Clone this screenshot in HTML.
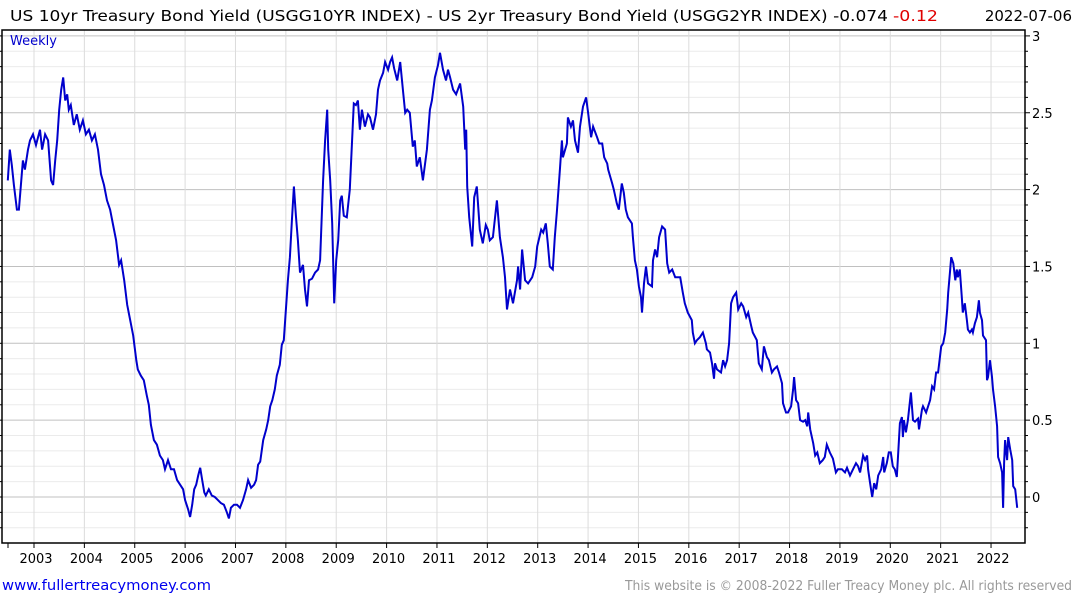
<!DOCTYPE html>
<html><head><meta charset="utf-8"><style>
body{margin:0;background:#fff;}
svg{display:block;font-family:"DejaVu Sans","Liberation Sans",sans-serif;}
</style></head><body>
<svg id="chart" width="1075" height="600" viewBox="0 0 1075 600">
<g id="grid"></g>
<g id="axes"></g>
<g id="series"></g>
<text x="10" y="21" font-size="15" fill="#000" textLength="878" lengthAdjust="spacingAndGlyphs">US 10yr Treasury Bond Yield (USGG10YR INDEX) - US 2yr Treasury Bond Yield (USGG2YR INDEX) -0.074</text>
<text x="893" y="21" font-size="15" fill="#e00000" textLength="45" lengthAdjust="spacingAndGlyphs">-0.12</text>
<text x="1072" y="21" font-size="15" fill="#000" text-anchor="end">2022-07-06</text>
<text x="10" y="45" font-size="13" fill="#0000cc">Weekly</text>
<text x="2" y="590" font-size="14" fill="#0000ee" textLength="209" lengthAdjust="spacingAndGlyphs">www.fullertreacymoney.com</text>
<text x="1072" y="590" font-size="13" fill="#999" text-anchor="end" textLength="447" lengthAdjust="spacingAndGlyphs">This website is © 2008-2022 Fuller Treacy Money plc. All rights reserved</text>
</svg>
<script>
const yearTicks=[2003,2004,2005,2006,2007,2008,2009,2010,2011,2012,2013,2014,2015,2016,2017,2018,2019,2020,2021,2022];
const yTicks=[0,0.5,1,1.5,2,2.5,3];
const yTickLabels=["0","0.5","1","1.5","2","2.5","3"];
const dates=[2002.48,2002.52,2002.56,2002.60,2002.66,2002.70,2002.74,2002.78,2002.82,2002.88,2002.92,2002.98,2003.04,2003.12,2003.16,2003.22,2003.28,2003.34,2003.38,2003.42,2003.46,2003.50,2003.54,2003.58,2003.62,2003.66,2003.69,2003.73,2003.79,2003.85,2003.91,2003.97,2004.03,2004.09,2004.15,2004.21,2004.27,2004.33,2004.39,2004.45,2004.51,2004.57,2004.63,2004.69,2004.73,2004.79,2004.85,2004.91,2004.97,2005.03,2005.06,2005.12,2005.18,2005.24,2005.28,2005.32,2005.38,2005.44,2005.50,2005.56,2005.60,2005.66,2005.72,2005.78,2005.84,2005.90,2005.96,2006.00,2006.06,2006.10,2006.14,2006.18,2006.22,2006.26,2006.30,2006.34,2006.38,2006.41,2006.47,2006.53,2006.59,2006.65,2006.71,2006.77,2006.83,2006.87,2006.91,2006.97,2007.03,2007.09,2007.15,2007.21,2007.25,2007.31,2007.37,2007.41,2007.45,2007.49,2007.55,2007.61,2007.65,2007.69,2007.73,2007.78,2007.82,2007.88,2007.92,2007.96,2008.00,2008.04,2008.08,2008.12,2008.16,2008.20,2008.24,2008.28,2008.34,2008.38,2008.42,2008.46,2008.52,2008.58,2008.64,2008.68,2008.74,2008.78,2008.82,2008.84,2008.88,2008.92,2008.96,2009.00,2009.04,2009.08,2009.11,2009.15,2009.21,2009.27,2009.31,2009.35,2009.39,2009.43,2009.47,2009.51,2009.57,2009.63,2009.67,2009.73,2009.79,2009.83,2009.87,2009.93,2009.97,2010.03,2010.07,2010.11,2010.15,2010.21,2010.27,2010.33,2010.37,2010.41,2010.46,2010.52,2010.56,2010.60,2010.66,2010.72,2010.76,2010.80,2010.86,2010.90,2010.96,2011.02,2011.06,2011.12,2011.18,2011.22,2011.26,2011.32,2011.38,2011.46,2011.52,2011.56,2011.58,2011.60,2011.64,2011.70,2011.74,2011.79,2011.85,2011.91,2011.97,2012.01,2012.05,2012.11,2012.19,2012.25,2012.31,2012.35,2012.39,2012.45,2012.51,2012.59,2012.61,2012.65,2012.69,2012.75,2012.81,2012.89,2012.95,2012.99,2013.07,2013.11,2013.16,2013.20,2013.24,2013.30,2013.34,2013.38,2013.44,2013.48,2013.50,2013.58,2013.60,2013.66,2013.70,2013.74,2013.80,2013.84,2013.90,2013.96,2014.00,2014.06,2014.10,2014.18,2014.22,2014.28,2014.32,2014.38,2014.40,2014.48,2014.51,2014.57,2014.61,2014.67,2014.71,2014.75,2014.79,2014.87,2014.89,2014.93,2014.97,2015.01,2015.05,2015.07,2015.11,2015.15,2015.19,2015.27,2015.29,2015.33,2015.37,2015.41,2015.47,2015.53,2015.57,2015.61,2015.67,2015.73,2015.83,2015.88,2015.92,2015.98,2016.06,2016.08,2016.12,2016.16,2016.22,2016.28,2016.34,2016.36,2016.42,2016.46,2016.50,2016.52,2016.56,2016.64,2016.68,2016.72,2016.76,2016.80,2016.84,2016.88,2016.94,2016.98,2017.04,2017.08,2017.14,2017.18,2017.24,2017.27,2017.35,2017.39,2017.45,2017.49,2017.55,2017.59,2017.65,2017.69,2017.75,2017.79,2017.85,2017.87,2017.93,2017.97,2018.03,2018.07,2018.09,2018.13,2018.17,2018.21,2018.27,2018.31,2018.35,2018.37,2018.41,2018.47,2018.51,2018.55,2018.60,2018.66,2018.70,2018.74,2018.80,2018.86,2018.92,2018.96,2019.04,2019.10,2019.14,2019.20,2019.26,2019.32,2019.36,2019.40,2019.46,2019.50,2019.54,2019.56,2019.60,2019.64,2019.68,2019.72,2019.76,2019.82,2019.86,2019.88,2019.93,2019.97,2020.01,2020.05,2020.09,2020.13,2020.15,2020.19,2020.23,2020.25,2020.27,2020.31,2020.35,2020.41,2020.45,2020.49,2020.55,2020.57,2020.63,2020.65,2020.71,2020.75,2020.79,2020.83,2020.87,2020.91,2020.95,2021.01,2021.05,2021.09,2021.13,2021.15,2021.19,2021.21,2021.25,2021.29,2021.32,2021.34,2021.38,2021.42,2021.44,2021.48,2021.52,2021.54,2021.58,2021.62,2021.64,2021.68,2021.72,2021.76,2021.78,2021.82,2021.84,2021.90,2021.92,2021.94,2021.98,2022.02,2022.04,2022.08,2022.12,2022.14,2022.18,2022.22,2022.24,2022.26,2022.28,2022.32,2022.34,2022.38,2022.42,2022.44,2022.48,2022.52];
const spread=[2.06,2.26,2.16,2.03,1.87,1.87,2.03,2.19,2.13,2.26,2.32,2.36,2.29,2.39,2.26,2.36,2.32,2.06,2.03,2.19,2.32,2.52,2.65,2.73,2.58,2.62,2.52,2.55,2.42,2.49,2.39,2.45,2.36,2.39,2.32,2.36,2.26,2.10,2.03,1.93,1.87,1.77,1.67,1.51,1.54,1.41,1.25,1.15,1.05,0.89,0.83,0.79,0.76,0.66,0.60,0.47,0.37,0.34,0.27,0.24,0.18,0.24,0.18,0.18,0.11,0.08,0.05,-0.02,-0.08,-0.13,-0.05,0.05,0.08,0.14,0.19,0.11,0.03,0.01,0.05,0.01,0,-0.02,-0.04,-0.05,-0.10,-0.14,-0.07,-0.05,-0.05,-0.07,-0.02,0.05,0.11,0.06,0.08,0.11,0.21,0.23,0.37,0.44,0.50,0.59,0.63,0.70,0.79,0.86,0.99,1.02,1.22,1.41,1.56,1.80,2.02,1.83,1.67,1.46,1.51,1.35,1.24,1.41,1.42,1.46,1.48,1.54,2.06,2.32,2.52,2.26,2.06,1.78,1.26,1.54,1.67,1.93,1.96,1.83,1.82,2.00,2.28,2.56,2.55,2.58,2.39,2.52,2.41,2.49,2.47,2.39,2.49,2.65,2.71,2.76,2.83,2.78,2.83,2.86,2.79,2.71,2.83,2.63,2.50,2.52,2.50,2.28,2.32,2.15,2.21,2.06,2.16,2.26,2.52,2.58,2.73,2.81,2.89,2.78,2.71,2.78,2.73,2.65,2.62,2.69,2.54,2.26,2.39,2.02,1.82,1.63,1.95,2.02,1.74,1.65,1.77,1.74,1.67,1.69,1.93,1.69,1.56,1.43,1.22,1.35,1.26,1.41,1.50,1.35,1.61,1.41,1.39,1.43,1.50,1.63,1.74,1.72,1.78,1.65,1.50,1.48,1.69,1.85,2.13,2.32,2.21,2.30,2.47,2.41,2.45,2.32,2.24,2.41,2.54,2.60,2.50,2.34,2.41,2.34,2.30,2.30,2.21,2.17,2.13,2.04,2.00,1.91,1.87,2.04,1.98,1.87,1.82,1.78,1.69,1.54,1.48,1.37,1.30,1.20,1.39,1.50,1.39,1.37,1.54,1.61,1.56,1.69,1.76,1.74,1.52,1.46,1.48,1.43,1.43,1.33,1.26,1.20,1.15,1.07,1.00,1.02,1.04,1.07,1.00,0.96,0.94,0.87,0.77,0.87,0.83,0.81,0.89,0.85,0.89,1.00,1.26,1.30,1.33,1.22,1.26,1.24,1.17,1.20,1.11,1.07,1.02,0.87,0.83,0.98,0.91,0.89,0.81,0.83,0.85,0.81,0.74,0.61,0.55,0.55,0.59,0.70,0.78,0.63,0.61,0.50,0.49,0.50,0.46,0.55,0.44,0.35,0.27,0.29,0.22,0.24,0.26,0.34,0.29,0.25,0.16,0.18,0.18,0.16,0.19,0.14,0.18,0.22,0.20,0.16,0.27,0.24,0.27,0.18,0.09,0,0.09,0.05,0.14,0.18,0.26,0.16,0.22,0.29,0.29,0.20,0.18,0.13,0.24,0.48,0.52,0.39,0.50,0.42,0.50,0.68,0.50,0.49,0.51,0.44,0.57,0.59,0.55,0.59,0.63,0.72,0.70,0.81,0.81,0.98,1.00,1.07,1.22,1.33,1.48,1.56,1.52,1.41,1.48,1.43,1.48,1.30,1.20,1.26,1.15,1.09,1.07,1.09,1.07,1.13,1.17,1.28,1.20,1.15,1.05,1.02,0.76,0.78,0.89,0.78,0.70,0.59,0.46,0.26,0.22,0.16,-0.07,0.22,0.37,0.24,0.39,0.31,0.24,0.07,0.05,-0.07];

const NS='http://www.w3.org/2000/svg';
const PL=2,PR=1025,PT=30,PB=543;
function xScale(yr){return 34+(yr-2003)*50.37;}
function yScale(v){return 497-v*153.7;}
function mk(tag,attrs,parent){const e=document.createElementNS(NS,tag);for(const k in attrs)e.setAttribute(k,attrs[k]);parent.appendChild(e);return e;}
const grid=document.getElementById('grid'),axes=document.getElementById('axes'),series=document.getElementById('series');

// minor horizontal grid every 0.1
for(let i=-2;i<=31;i++){
  const v=i/10,y=yScale(v);
  if(y<PT||y>PB)continue;
  const major=(i%5===0);
  const l=mk('line',{x1:PL,x2:PR,y1:y,y2:y,stroke:major?'#c0c0c0':'#ebebeb','stroke-width':1},grid);
  
  
  const t=mk('line',{x1:PR,x2:PR+(major?5:3),y1:y,y2:y,stroke:'#000','stroke-width':1},axes);
  
  
  const t2=mk('line',{x1:0,x2:PL,y1:y,y2:y,stroke:'#000','stroke-width':1},axes);
  
  
}
yTicks.forEach((v,i)=>{
  const t=mk('text',{x:PR+7,y:yScale(v)+5,'font-size':13,fill:'#000'},axes);
  t.textContent=yTickLabels[i];
  
  
});
yearTicks.forEach(yr=>{
  const x=xScale(yr);
  const l=mk('line',{x1:x,x2:x,y1:PT,y2:PB,stroke:'#dcdcdc','stroke-width':1},grid);
  
  
  const t=mk('line',{x1:x,x2:x,y1:PB,y2:PB+5,stroke:'#000','stroke-width':1},axes);
  
  
  const lb=mk('text',{x:x+2,y:563,'font-size':13,fill:'#000','text-anchor':'middle'},axes);
  lb.textContent=String(yr);
  
  
});
const st=mk('line',{x1:8,x2:8,y1:PB,y2:PB+5,stroke:'#000'},axes);


const frame=mk('path',{d:`M${PL} ${PT}H${PR}V${PB}H${PL}Z`,fill:'none',stroke:'#000','stroke-width':1.5},axes);



let d='';
dates.forEach((yr,i)=>{d+=(i?'L':'M')+xScale(yr).toFixed(1)+' '+yScale(spread[i]).toFixed(1);});
const line=mk('path',{d:d,fill:'none',stroke:'#0000cc','stroke-width':2,'stroke-linejoin':'miter'},series);


</script>
</body></html>
